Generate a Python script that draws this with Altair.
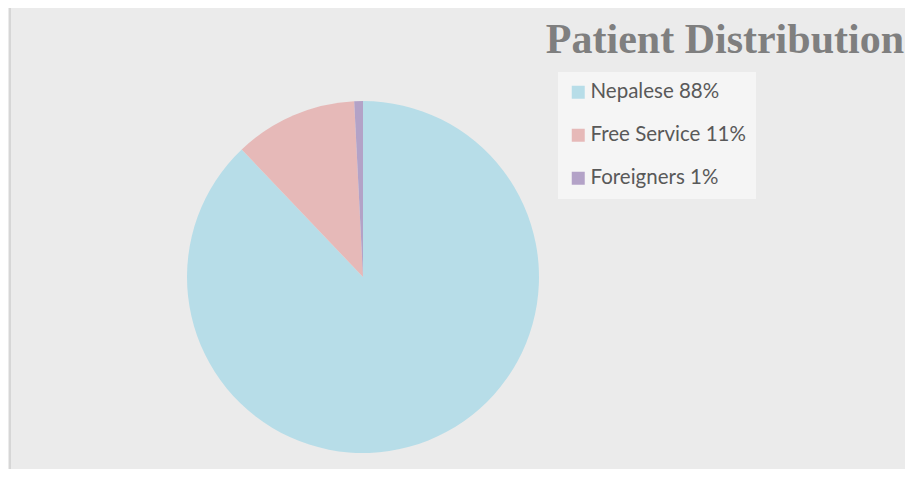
import altair as alt
import pandas as pd

categories = ["Nepalese", "Free Service", "Foreigners"]
values = [87.9, 11.3, 0.8]
colors = ["#b7dde8", "#e6b9b8", "#b3a2c7"]
title_text = "Patient Distribution"

labels = [f"{c} {round(v)}%" for c, v in zip(categories, values)]
df = pd.DataFrame({"label": labels, "value": values, "idx": list(range(len(values)))})

W, H = 897, 461

pie = alt.Chart(df).mark_arc(stroke=None).encode(
    theta=alt.Theta("value:Q", stack=True),
    order=alt.Order("idx:Q"),
    color=alt.Color(
        "label:N",
        scale=alt.Scale(domain=labels, range=colors),
        legend=alt.Legend(
            title=None,
            orient="none",
            legendX=550,
            legendY=64,
            symbolType="square",
            symbolSize=169,
            symbolStrokeWidth=0,
            labelFont="Lato",
            labelFontSize=20.5,
            labelColor="#595959",
            labelOffset=2,
            rowPadding=22,
            padding=10,
            fillColor="#f5f5f5",
            labelLimit=400,
        ),
    ),
    x=alt.value(355),
    y=alt.value(269),
    radius=alt.value(176),
)

border = alt.Chart(pd.DataFrame({"a": [0]})).mark_rule(color="#d6d6d6", strokeWidth=2).encode(
    x=alt.value(2), y=alt.value(0), y2=alt.value(H)
)

title = alt.Chart(pd.DataFrame({"t": [title_text]})).mark_text(
    font="Liberation Serif",
    fontSize=42,
    fontWeight="bold",
    color="#7f7f7f",
    align="right",
    baseline="alphabetic",
).encode(text="t:N", x=alt.value(W - 1), y=alt.value(45))

chart = alt.layer(border, pie, title).properties(
    width=W,
    height=H,
    autosize=alt.AutoSizeParams(type="none"),
    padding=0,
).configure(background="white").configure_view(fill="#ebebeb", stroke=None)

chart.save("out.html", embed_options={"renderer": "svg", "actions": False})
